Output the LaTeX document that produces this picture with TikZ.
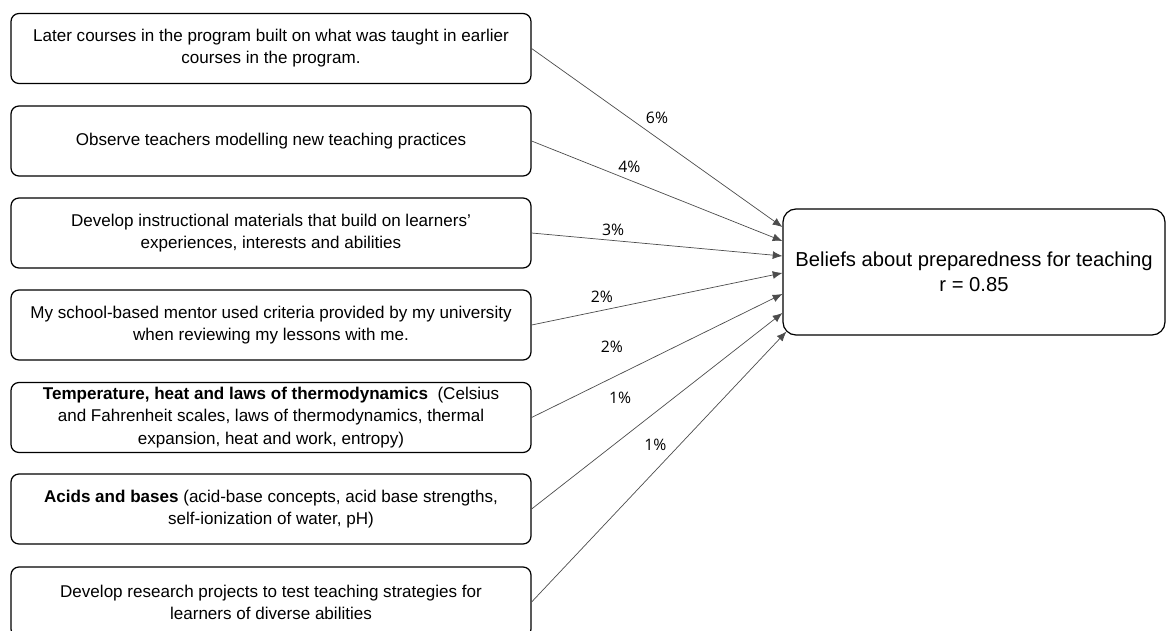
\documentclass[tikz,border=0pt]{standalone}
\usepackage{fontspec}
\setmainfont{Liberation Sans}
\newfontfamily\pctfont{Open Sans}
\usetikzlibrary{arrows.meta}
\begin{document}
\begin{tikzpicture}[
  factor/.style={draw, line width=0.7pt, rounded corners=0.16cm, minimum width=10.4cm, minimum height=1.4cm, align=center, inner sep=2pt, font=\fontsize{9.7}{12.6}\selectfont},
  outcome/.style={draw, line width=0.7pt, rounded corners=0.26cm, minimum width=7.64cm, minimum height=2.52cm, align=center, font=\fontsize{11.5}{14.2}\selectfont},
  link/.style={-{Latex[length=5.5pt,width=4.5pt]}, draw=black!70, line width=0.4pt},
  pct/.style={font=\pctfont\fontsize{9}{11}\selectfont, inner sep=0pt}]
\useasboundingbox (0,0) rectangle (23.34,12.6);
% predictors on the left
\node[factor] (f1) at (5.42,11.63) {Later courses in the program built on what was taught in earlier\\courses in the program.};
\node[factor] (f2) at (5.42,9.78) {Observe teachers modelling new teaching practices};
\node[factor] (f3) at (5.42,7.94) {Develop instructional materials that build on learners'\\experiences, interests and abilities};
\node[factor] (f4) at (5.42,6.10) {My school-based mentor used criteria provided by my university\\when reviewing my lessons with me.};
\node[factor] (f5) at (5.42,4.25) {\textbf{Temperature, heat and laws of thermodynamics}\ \ (Celsius\\and Fahrenheit scales, laws of thermodynamics, thermal\\expansion, heat and work, entropy)};
\node[factor] (f6) at (5.42,2.42) {\textbf{Acids and bases} (acid-base concepts, acid base strengths,\\self-ionization of water, pH)};
\node[factor] (f7) at (5.42,0.56) {Develop research projects to test teaching strategies for\\learners of diverse abilities};

% outcome on the right
\node[outcome] (out) at (19.48,7.16) {Beliefs about preparedness for teaching\\r = 0.85};

% weighted links
\draw[link] (f1.east) -- ([yshift=0.90cm]out.west) node[pct, pos=0.5, yshift=0.39cm] (p1) {6\%};
\draw[link] (f2.east) -- ([yshift=0.62cm]out.west) node[pct, pos=0.39, yshift=0.27cm] (p2) {4\%};
\draw[link] (f3.east) -- ([yshift=0.32cm]out.west) node[pct, pos=0.325, yshift=0.22cm] (p3) {3\%};
\draw[link] (f4.east) -- ([yshift=-0.02cm]out.west) node[pct, pos=0.28, yshift=0.28cm] (p4) {2\%};
\draw[link] (f5.east) -- ([yshift=-0.44cm]out.west) node[pct, pos=0.32, yshift=0.62cm] (p5) {2\%};
\draw[link] (f6.east) -- ([yshift=-0.82cm]out.west) node[pct, pos=0.353, yshift=0.84cm] (p6) {1\%};
\draw[link] (f7.east) -- ([shift={(0.08,0.08)}]out.south west) node[pct, pos=0.486, yshift=0.52cm] (p7) {1\%};
\end{tikzpicture}
\end{document}
